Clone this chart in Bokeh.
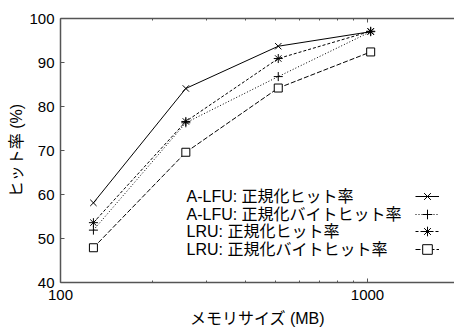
from bokeh.plotting import figure
from bokeh.models import LogAxis, Legend, LegendItem, Label, FixedTicker, Range1d, NumeralTickFormatter
from bokeh.embed import file_html
from bokeh.resources import INLINE

# ---- data ----
mem_mb = [128, 256, 512, 1024]
alfu_hit = [58.1, 84.1, 93.7, 97.0]
alfu_byte = [51.9, 76.3, 86.8, 97.0]
lru_hit = [53.6, 76.6, 90.9, 97.1]
lru_byte = [47.9, 69.6, 84.2, 92.4]
series_labels = [
    "A-LFU: 正規化ヒット率",
    "A-LFU: 正規化バイトヒット率",
    "LRU: 正規化ヒット率",
    "LRU: 正規化バイトヒット率",
]
y_ticks = [40, 50, 60, 70, 80, 90, 100]
x_ticks = [100, 1000]
x_minor_ticks = [200, 300, 400, 500, 600, 700, 800, 900]
x_label = "メモリサイズ (MB)"
y_label = "ヒット率 (%)"

FONT = "'Liberation Sans', 'Noto Sans CJK JP', sans-serif"
AX = "#555555"

p = figure(frame_width=394, frame_height=264, x_axis_type="log",
           x_range=Range1d(100, 1920), y_range=Range1d(40, 100),
           output_backend="svg", toolbar_location=None,
           min_border_left=60, min_border_right=0, min_border_top=18, min_border_bottom=0)
p.outline_line_color = None
p.xgrid.visible = False
p.ygrid.visible = False
p.background_fill_color = "white"
p.border_fill_color = "white"

styles = [
    (alfu_hit, "solid", "x", "black", 9),
    (alfu_byte, "1 2", "cross", "black", 9),
    (lru_hit, "3 2", "asterisk", "black", 9),
    (lru_byte, "5 2", "square", "white", 8),
]
row_centers = [86.0, 68.3, 50.6, 32.9]  # legend rows, px above frame bottom
for (ys, dash, marker, fill, msize), lab, rc in zip(styles, series_labels, row_centers):
    lr = p.line(mem_mb, ys, line_color="black", line_width=1, line_dash=dash)
    sr = p.scatter(mem_mb, ys, marker=marker, size=msize, line_color="black",
                   fill_color=fill, line_width=1)
    leg = Legend(items=[LegendItem(label=" ", renderers=[lr, sr])],
                 location=(355, rc - 12), glyph_width=24, glyph_height=24,
                 label_height=14, spacing=0, padding=0, margin=0,
                 border_line_color=None, background_fill_alpha=0,
                 label_standoff=0, label_width=0, label_text_font_size="1px")
    p.add_layout(leg)
    p.add_layout(Label(x=126, y=rc, x_units="screen", y_units="screen",
                       text=lab, text_baseline="middle", text_align="left",
                       text_font=FONT, text_font_size="16px", text_color="black"))

# axes
xa = p.xaxis[0]
xa.ticker = FixedTicker(ticks=x_ticks, minor_ticks=x_minor_ticks)
xa.formatter = NumeralTickFormatter(format="0")
ya = p.yaxis[0]
ya.ticker = FixedTicker(ticks=y_ticks)
for ax in (xa, ya):
    ax.axis_line_color = AX
    ax.axis_line_width = 1.5
    ax.major_tick_line_color = AX
    ax.minor_tick_line_color = AX
    ax.major_tick_in = 4
    ax.major_tick_out = 0
    ax.minor_tick_in = 2
    ax.minor_tick_out = 0
    ax.major_label_text_font = FONT
    ax.major_label_text_font_size = "15px"
    ax.major_label_text_color = "black"
    ax.axis_label_text_font = FONT
    ax.axis_label_text_font_size = "16px"
    ax.axis_label_text_font_style = "normal"
    ax.axis_label_text_color = "black"
ya.minor_tick_line_color = None
xa.axis_label = x_label
ya.axis_label = y_label
xa.major_label_standoff = 7
ya.major_label_standoff = 6
xa.axis_label_standoff = 7
ya.axis_label_standoff = 1

top = LogAxis(ticker=FixedTicker(ticks=x_ticks, minor_ticks=x_minor_ticks),
              axis_line_color=AX, axis_line_width=1.5,
              major_tick_line_color=AX, minor_tick_line_color=AX,
              major_tick_in=4, major_tick_out=0, minor_tick_in=2, minor_tick_out=0,
              major_label_text_font_size="0px", major_label_text_color=None)
p.add_layout(top, "above")

open("out.html", "w").write(file_html(p, INLINE))
